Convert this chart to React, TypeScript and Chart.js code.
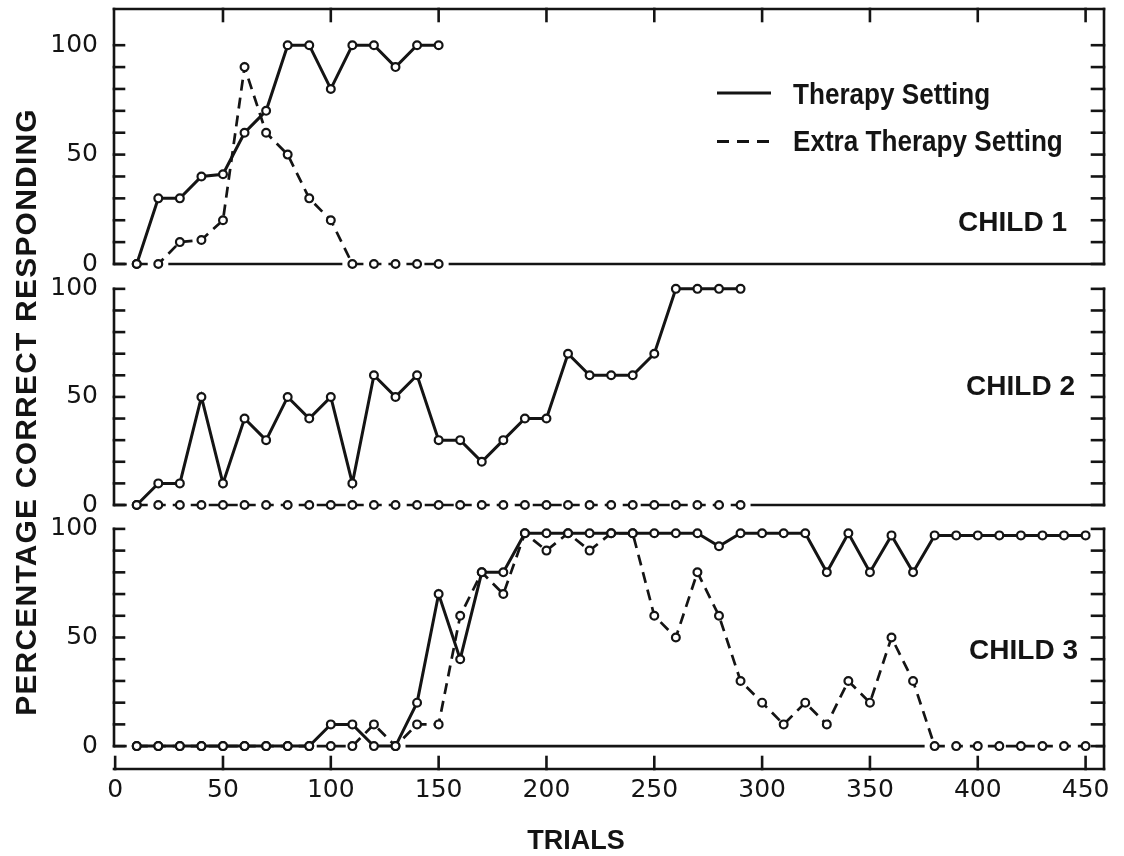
import React, { useEffect, useRef } from 'react';
import { Chart, registerables } from 'chart.js';

Chart.register(...registerables);

const FONT = '"Liberation Sans", Arial, sans-serif';
const NUM_FONT = '"DejaVu Sans", "Liberation Sans", sans-serif';
const INK = '#141414';

// ---------- data ----------
const xTickValues = [0, 50, 100, 150, 200, 250, 300, 350, 400, 450];
const yTickValues = [0, 50, 100];
const seriesNames = ['Therapy Setting', 'Extra Therapy Setting'];
const yTitle = 'PERCENTAGE CORRECT RESPONDING';
const xTitle = 'TRIALS';

const child1Trials = [10, 20, 30, 40, 50, 60, 70, 80, 90, 100, 110, 120, 130, 140, 150];
const child1Therapy = [0, 30, 30, 40, 41, 60, 70, 100, 100, 80, 100, 100, 90, 100, 100];
const child1Extra = [0, 0, 10, 11, 20, 90, 60, 50, 30, 20, 0, 0, 0, 0, 0];

const child2Trials = [10, 20, 30, 40, 50, 60, 70, 80, 90, 100, 110, 120, 130, 140, 150, 160, 170, 180, 190, 200, 210, 220, 230, 240, 250, 260, 270, 280, 290];
const child2Therapy = [0, 10, 10, 50, 10, 40, 30, 50, 40, 50, 10, 60, 50, 60, 30, 30, 20, 30, 40, 40, 70, 60, 60, 60, 70, 100, 100, 100, 100];
const child2Extra = [0, 0, 0, 0, 0, 0, 0, 0, 0, 0, 0, 0, 0, 0, 0, 0, 0, 0, 0, 0, 0, 0, 0, 0, 0, 0, 0, 0, 0];

const child3Trials = [10, 20, 30, 40, 50, 60, 70, 80, 90, 100, 110, 120, 130, 140, 150, 160, 170, 180, 190, 200, 210, 220, 230, 240, 250, 260, 270, 280, 290, 300, 310, 320, 330, 340, 350, 360, 370, 380, 390, 400, 410, 420, 430, 440, 450];
const child3Therapy = [0, 0, 0, 0, 0, 0, 0, 0, 0, 10, 10, 0, 0, 20, 70, 40, 80, 80, 98, 98, 98, 98, 98, 98, 98, 98, 98, 92, 98, 98, 98, 98, 80, 98, 80, 97, 80, 97, 97, 97, 97, 97, 97, 97, 97];
const child3Extra = [0, 0, 0, 0, 0, 0, 0, 0, 0, 0, 0, 10, 0, 10, 10, 60, 80, 70, 98, 90, 98, 90, 98, 98, 60, 50, 80, 60, 30, 20, 10, 20, 10, 30, 20, 50, 30, 0, 0, 0, 0, 0, 0, 0, 0];

const panelLabels = ['CHILD 1', 'CHILD 2', 'CHILD 3'];

// ---------- layout ----------
type Panel = {
  trials: number[];
  therapy: number[];
  extra: number[];
  label: string;
  yMin: number;
  yMax: number;
  padTop: number;
  padBottom: number;
  topBorder: boolean;
  xAxis: boolean;
  labelX: number;
  labelY: number;
  legend: boolean;
};

const panels: Panel[] = [
  { trials: child1Trials, therapy: child1Therapy, extra: child1Extra, label: panelLabels[0], yMin: 0, yMax: 117, padTop: 8, padBottom: 592, topBorder: true, xAxis: false, labelX: 1067, labelY: 223, legend: true },
  { trials: child2Trials, therapy: child2Therapy, extra: child2Extra, label: panelLabels[1], yMin: 0, yMax: 111.5, padTop: 264, padBottom: 351, topBorder: false, xAxis: false, labelX: 1075, labelY: 387, legend: false },
  { trials: child3Trials, therapy: child3Therapy, extra: child3Extra, label: panelLabels[2], yMin: -11, yMax: 111, padTop: 505, padBottom: 0, topBorder: false, xAxis: true, labelX: 1078, labelY: 651, legend: false },
];

function scaledText(ctx: CanvasRenderingContext2D, text: string, x: number, y: number, font: string, sx: number, align: CanvasTextAlign) {
  ctx.save();
  ctx.translate(x, y);
  ctx.scale(sx, 1);
  ctx.font = font;
  ctx.textAlign = align;
  ctx.textBaseline = 'middle';
  ctx.fillStyle = INK;
  ctx.fillText(text, 0, 0);
  ctx.restore();
}

function makePlugin(panel: Panel, idx: number) {
  return {
    id: 'frame' + idx,
    beforeDatasetsDraw(chart: any) {
      const { ctx, chartArea: a, scales } = chart;
      const xs = scales.x;
      const ys = scales.y;
      const L = a.left + 1;
      const R = a.right - 1;
      const y0 = ys.getPixelForValue(0);
      const yTop = panel.topBorder ? a.top + 1 : ys.getPixelForValue(100);
      ctx.save();
      ctx.strokeStyle = INK;
      ctx.lineWidth = 2.6;
      ctx.lineCap = 'square';
      ctx.setLineDash([]);
      const line = (x1: number, y1: number, x2: number, y2: number) => {
        ctx.beginPath();
        ctx.moveTo(x1, y1);
        ctx.lineTo(x2, y2);
        ctx.stroke();
      };
      // left & right axes
      line(L, yTop, L, y0);
      line(R, yTop, R, panel.xAxis ? a.bottom - 1 : y0);
      // minor ticks every 10
      for (let v = 0; v <= 100; v += 10) {
        const py = ys.getPixelForValue(v);
        line(L, py, L + 10, py);
        line(R, py, R - 12, py);
      }
      if (panel.topBorder) {
        line(L, yTop, R, yTop);
        xTickValues.forEach((v) => {
          const px = xs.getPixelForValue(v);
          if (px > L + 4) line(px, yTop, px, yTop + 12);
        });
      }
      if (panel.xAxis) {
        const yb = a.bottom - 1;
        line(L, yb, R, yb);
        xTickValues.forEach((v) => {
          const px = xs.getPixelForValue(v);
          line(px, yb, px, yb - 12);
        });
      }
      // baseline at 0 with gaps where a series runs along zero
      const pad = 10;
      const gaps: number[][] = [];
      chart.data.datasets.forEach((ds: any) => {
        const pts = ds.data as { x: number; y: number }[];
        let i = 0;
        while (i < pts.length) {
          if (pts[i].y === 0) {
            let j = i;
            while (j + 1 < pts.length && pts[j + 1].y === 0) j++;
            gaps.push([xs.getPixelForValue(pts[i].x) - pad, xs.getPixelForValue(pts[j].x) + pad]);
            i = j + 1;
          } else i++;
        }
      });
      gaps.sort((p, q) => p[0] - q[0]);
      const merged: number[][] = [];
      gaps.forEach((g) => {
        const last = merged[merged.length - 1];
        if (last && g[0] <= last[1] + 25) last[1] = Math.max(last[1], g[1]);
        else merged.push([g[0], g[1]]);
      });
      let cursor = L;
      ctx.lineCap = 'butt';
      merged.forEach((g) => {
        if (g[0] - cursor > 6) line(cursor, y0, g[0], y0);
        cursor = Math.max(cursor, g[1]);
      });
      if (R - cursor > 3) line(cursor, y0, R + 1, y0);
      ctx.restore();
    },
    afterDraw(chart: any) {
      const { ctx } = chart;
      ctx.save();
      scaledText(ctx, panel.label, panel.labelX, panel.labelY, `bold 28px ${FONT}`, 1, 'right');
      if (panel.legend) {
        ctx.strokeStyle = INK;
        ctx.lineWidth = 3;
        ctx.setLineDash([]);
        ctx.beginPath();
        ctx.moveTo(717, 93);
        ctx.lineTo(771, 93);
        ctx.stroke();
        ctx.lineWidth = 2.8;
        ctx.setLineDash([12, 8]);
        ctx.beginPath();
        ctx.moveTo(717, 141.5);
        ctx.lineTo(775, 141.5);
        ctx.stroke();
        ctx.setLineDash([]);
        scaledText(ctx, seriesNames[0], 793, 96, `bold 29px ${FONT}`, 0.9, 'left');
        scaledText(ctx, seriesNames[1], 793, 143, `bold 29px ${FONT}`, 0.9, 'left');
        // y axis title
        ctx.save();
        ctx.translate(28, 412);
        ctx.rotate(-Math.PI / 2);
        ctx.font = `bold 30px ${FONT}`;
        (ctx as any).letterSpacing = '1.2px';
        ctx.textAlign = 'center';
        ctx.textBaseline = 'middle';
        ctx.fillStyle = INK;
        ctx.fillText(yTitle, 0, 0);
        ctx.restore();
      }
      if (panel.xAxis) {
        scaledText(ctx, xTitle, 576, 842, `bold 27px ${FONT}`, 1, 'center');
      }
      ctx.restore();
    },
  };
}

function buildConfig(panel: Panel, idx: number): any {
  const pointStyle = {
    pointRadius: 3.9,
    pointBorderWidth: 2.2,
    pointBackgroundColor: '#ffffff',
    pointBorderColor: INK,
    pointHoverRadius: 3.9,
  };
  return {
    type: 'line',
    data: {
      datasets: [
        {
          label: seriesNames[0],
          data: panel.trials.map((t, i) => ({ x: t, y: panel.therapy[i] })),
          borderColor: INK,
          borderWidth: 3,
          tension: 0,
          fill: false,
          clip: false,
          ...pointStyle,
        },
        {
          label: seriesNames[1],
          data: panel.trials.map((t, i) => ({ x: t, y: panel.extra[i] })),
          borderColor: INK,
          borderWidth: 2.7,
          borderDash: [11, 7],
          tension: 0,
          fill: false,
          clip: false,
          ...pointStyle,
        },
      ],
    },
    options: {
      animation: false,
      responsive: false,
      maintainAspectRatio: false,
      devicePixelRatio: 1,
      events: [],
      layout: { padding: { left: 0, right: 19, top: panel.padTop, bottom: panel.padBottom } },
      plugins: { legend: { display: false }, tooltip: { enabled: false }, title: { display: false } },
      scales: {
        x: {
          type: 'linear',
          min: -1,
          max: 459,
          display: panel.xAxis,
          grid: { display: false, drawTicks: false },
          border: { display: false },
          afterBuildTicks: (s: any) => {
            s.ticks = xTickValues.map((v) => ({ value: v }));
          },
          afterFit: (s: any) => {
            s.height = panel.xAxis ? 86 : 0;
            s.paddingLeft = 0;
            s.paddingRight = 0;
            s.paddingTop = 0;
            s.paddingBottom = 0;
          },
          ticks: {
            autoSkip: false,
            maxRotation: 0,
            padding: 5,
            color: INK,
            font: { family: NUM_FONT, size: 25 },
          },
        },
        y: {
          type: 'linear',
          min: panel.yMin,
          max: panel.yMax,
          grid: { display: false, drawTicks: false },
          border: { display: false },
          afterBuildTicks: (s: any) => {
            s.ticks = yTickValues.map((v) => ({ value: v }));
          },
          afterFit: (s: any) => {
            s.width = 113;
            s.paddingTop = 0;
            s.paddingBottom = 0;
            s.paddingLeft = 0;
            s.paddingRight = 0;
          },
          ticks: {
            padding: 15,
            color: INK,
            font: { family: NUM_FONT, size: 25 },
          },
        },
      },
    },
    plugins: [makePlugin(panel, idx)],
  };
}

export default function App() {
  const r0 = useRef<HTMLCanvasElement>(null);
  const r1 = useRef<HTMLCanvasElement>(null);
  const r2 = useRef<HTMLCanvasElement>(null);
  const refs = [r0, r1, r2];

  useEffect(() => {
    const charts = panels.map((p, i) => new Chart(refs[i].current as HTMLCanvasElement, buildConfig(p, i)));
    return () => charts.forEach((c) => c.destroy());
  }, []);

  return (
    <div style={{ position: 'absolute', left: 0, top: 0, width: 1124, height: 856, background: '#ffffff', overflow: 'hidden' }}>
      {refs.map((r, i) => (
        <canvas
          key={i}
          ref={r}
          width={1124}
          height={856}
          style={{ position: 'absolute', left: 0, top: 0, width: 1124, height: 856 }}
        />
      ))}
    </div>
  );
}
